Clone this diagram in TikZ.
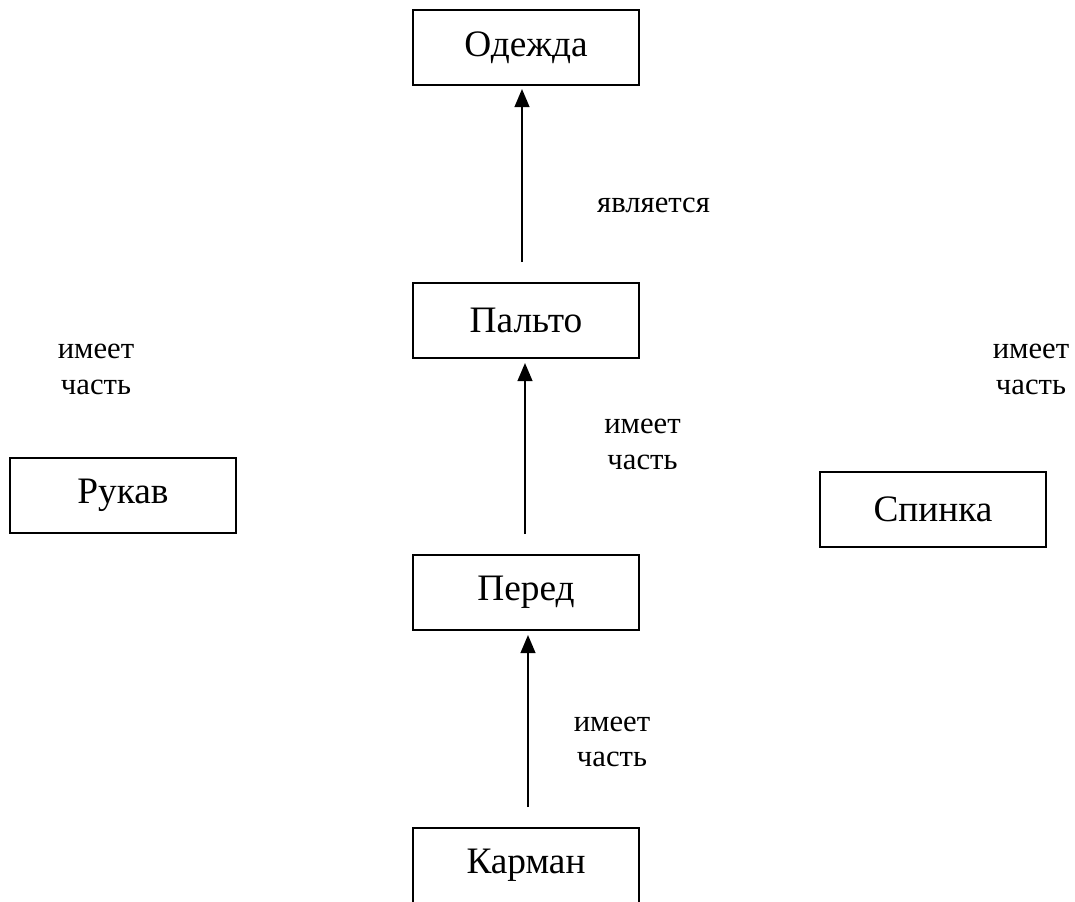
\documentclass[tikz,border=0pt]{standalone}
\usepackage{fontspec}
\setmainfont{Liberation Serif}
\usetikzlibrary{arrows.meta,calc}
\begin{document}
\begin{tikzpicture}[x=0.75pt,y=-0.75pt,
  box/.style={draw,line width=1.5pt,rectangle,minimum width=169.5pt,minimum height=56.25pt,inner sep=0pt,font=\fontsize{28}{32}\selectfont},
  lbl/.style={align=center,inner sep=0pt,font=\fontsize{23}{26.5}\selectfont},
  arr/.style={line width=1.6pt,-{Triangle[width=11pt,length=13.5pt]}}]
\useasboundingbox (0,0) rectangle (1075,901);
\node[box] (o) at (526,47.5) {Одежда};
\node[box] (p) at (526,320.5) {Пальто};
\node[box] (r) at (123,495) {Рукав};
\node[box] (s) at (933,509.5) {Спинка};
\node[box] (f) at (526,592.5) {Перед};
\node[box] (k) at (526,865.5) {Карман};
\draw[arr] ($(p.north)+(-4,-20)$) -- ($(o.south)+(-4,3)$);
\draw[arr] ($(f.north)+(-1,-20)$) -- ($(p.south)+(-1,4)$);
\draw[arr] ($(k.north)+(2,-20)$) -- ($(f.south)+(2,4)$);
\node[lbl,anchor=base] (l1) at (653.5,212) {является};
\node[lbl] (l2) at (96,369.5) {имеет\\часть};
\node[lbl] (l3) at (1031,369.5) {имеет\\часть};
\node[lbl] (l4) at (642.5,444.5) {имеет\\часть};
\node[lbl] (l5) at (612,742) {имеет\\часть};
\end{tikzpicture}
\end{document}
